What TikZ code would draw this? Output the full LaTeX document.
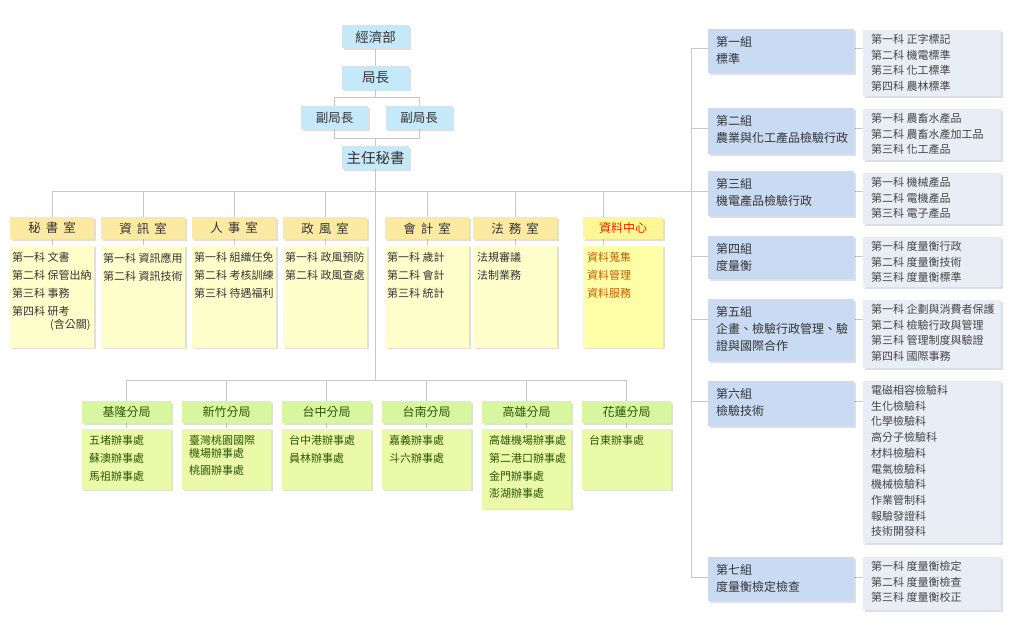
\documentclass[tikz,border=0pt]{standalone}
\usepackage{fontspec}
\setmainfont{Noto Sans CJK TC}
\usetikzlibrary{positioning,shadows,backgrounds}
\definecolor{topblue}{RGB}{198,233,250}
\definecolor{headyellow}{RGB}{252,234,163}
\definecolor{datahead}{RGB}{255,247,150}
\definecolor{bodyyellow}{RGB}{255,255,204}
\definecolor{databody}{RGB}{255,255,168}
\definecolor{brgreen}{RGB}{216,246,160}
\definecolor{brlight}{RGB}{234,250,168}
\definecolor{grpblue}{RGB}{201,219,242}
\definecolor{subgray}{RGB}{233,237,245}
\definecolor{linegray}{RGB}{200,200,200}
\definecolor{inkgray}{RGB}{51,51,51}
\definecolor{subink}{RGB}{68,68,68}
\definecolor{brink}{RGB}{45,85,10}
\definecolor{datared}{RGB}{220,40,0}
\definecolor{databrown}{RGB}{185,95,0}
\newcommand{\chgap}{\hspace{5pt}}

\begin{document}
\begin{tikzpicture}[x=1pt,y=-1pt,
  shade/.style={drop shadow={shadow xshift=1.5pt,shadow yshift=-1.5pt,opacity=.25}},
  topbox/.style={fill=topblue,minimum width=67,minimum height=23,inner sep=0,shade,
    text=inkgray,font=\fontsize{13.5}{14}\selectfont},
  offhead/.style={fill=headyellow,minimum width=84,minimum height=22,inner sep=0,
    anchor=north west,shade,text=inkgray,font=\fontsize{12.5}{13}\selectfont},
  offbody/.style={fill=bodyyellow,minimum width=84,minimum height=102,inner sep=0,shade},
  offtext/.style={anchor=north west,inner sep=0,align=left,text=inkgray,
    font=\fontsize{11}{18}\selectfont},
  brhead/.style={fill=brgreen,minimum width=89,minimum height=22,inner sep=0,
    anchor=north west,shade,text=brink,font=\fontsize{12}{13}\selectfont},
  brbody/.style={fill=brlight,minimum width=89,minimum height=61,inner sep=0,shade},
  brtext/.style={anchor=north west,inner sep=0,align=left,text=brink,
    font=\fontsize{11}{17.7}\selectfont},
  grpbox/.style={fill=grpblue,minimum width=146,inner sep=0,anchor=north west,shade},
  grptext/.style={anchor=north west,inner sep=0,align=left,text=inkgray,
    font=\fontsize{12}{17}\selectfont},
  subbox/.style={fill=subgray,minimum width=138,inner sep=0,anchor=north west,shade},
  subtext/.style={anchor=north west,inner sep=0,align=left,text=subink,
    font=\fontsize{11}{15.7}\selectfont},
  link/.style={draw=linegray,line width=1pt}]
\useasboundingbox (0,0) rectangle (1017,634);

% top of the chart
\node[topbox] (moea) at (375.5,37) {經濟部};
\node[topbox] (dg) at (375.5,78) {局長};
\node[topbox,font=\fontsize{12.5}{13}\selectfont] (ddg1) at (334.5,117.5) {副局長};
\node[topbox,font=\fontsize{12.5}{13}\selectfont] (ddg2) at (419,117.5) {副局長};
\node[topbox,font=\fontsize{14.5}{15}\selectfont] (sec) at (375.5,157.5) {主任秘書};

% offices
\node[offhead] (sech) at (10,217) {秘\chgap 書\chgap 室};
\node[offbody,below=6pt of sech] (secb) {};
\node[offtext] (sect) at ([shift={(2,7)}]secb.north west)
  {第一科 文書\\第二科 保管出納\\第三科 事務\\第四科 研考\\[-5pt]\hspace*{38pt}(含公關)};
\node[offhead] (infh) at (101,217) {資\chgap 訊\chgap 室};
\node[offbody,below=6pt of infh] (infb) {};
\node[offtext] (inft) at ([shift={(2,7)}]infb.north west)
  {第一科 資訊應用\\第二科 資訊技術};
\node[offhead] (perh) at (192,217) {人\chgap 事\chgap 室};
\node[offbody,below=6pt of perh] (perb) {};
\node[offtext] (pert) at ([shift={(2,7)}]perb.north west)
  {第一科 組織任免\\第二科 考核訓練\\第三科 待遇福利};
\node[offhead] (ethh) at (283,217) {政\chgap 風\chgap 室};
\node[offbody,below=6pt of ethh] (ethb) {};
\node[offtext] (etht) at ([shift={(2,7)}]ethb.north west)
  {第一科 政風預防\\第二科 政風查處};
\node[offhead] (acch) at (385,217) {會\chgap 計\chgap 室};
\node[offbody,below=6pt of acch] (accb) {};
\node[offtext] (acct) at ([shift={(2,7)}]accb.north west)
  {第一科 歲計\\第二科 會計\\第三科 統計};
\node[offhead] (lawh) at (473,217) {法\chgap 務\chgap 室};
\node[offbody,below=6pt of lawh] (lawb) {};
\node[offtext] (lawt) at ([shift={(4,7)}]lawb.north west)
  {法規審議\\法制業務};
\node[offhead,fill=datahead,text=datared,minimum width=80,font=\fontsize{12}{13}\selectfont]
  (dath) at (583,217) {資料中心};
\node[offbody,fill=databody,minimum width=80,below=6pt of dath] (datb) {};
\node[offtext,text=databrown] (datt) at ([shift={(4,7)}]datb.north west)
  {資料蒐集\\資料管理\\資料服務};

% branch offices
\node[brhead] (klh) at (82,401) {基隆分局};
\node[brbody,below=5pt of klh] (klb) {};
\node[brtext] (klt) at ([shift={(7,7)}]klb.north west)
  {五堵辦事處\\蘇澳辦事處\\馬祖辦事處};
\node[brhead] (hch) at (182,401) {新竹分局};
\node[brbody,below=5pt of hch] (hcb) {};
\node[brtext] (hct) at ([shift={(7,7)}]hcb.north west)
  {臺灣桃園國際\\[-5.5pt]機場辦事處\\桃園辦事處};
\node[brhead] (tch) at (282,401) {台中分局};
\node[brbody,below=5pt of tch] (tcb) {};
\node[brtext] (tct) at ([shift={(7,7)}]tcb.north west)
  {台中港辦事處\\員林辦事處};
\node[brhead] (tnh) at (382,401) {台南分局};
\node[brbody,below=5pt of tnh] (tnb) {};
\node[brtext] (tnt) at ([shift={(7,7)}]tnb.north west)
  {嘉義辦事處\\斗六辦事處};
\node[brhead] (ksh) at (482,401) {高雄分局};
\node[brbody,minimum height=80,below=5pt of ksh] (ksb) {};
\node[brtext] (kst) at ([shift={(7,7)}]ksb.north west)
  {高雄機場辦事處\\第二港口辦事處\\金門辦事處\\澎湖辦事處};
\node[brhead] (hlh) at (582,401) {花蓮分局};
\node[brbody,below=5pt of hlh] (hlb) {};
\node[brtext] (hlt) at ([shift={(7,7)}]hlb.north west)
  {台東辦事處};

% groups and their sections
\node[grpbox,minimum height=44] (grp1) at (708,29) {};
\node[grptext] (grp1t) at ([shift={(8,7)}]grp1.north west) {第一組\\標準};
\node[subbox,minimum height=66] (sub1) at (863,30) {};
\node[subtext] (sub1t) at ([shift={(8,4)}]sub1.north west)
  {第一科 正字標記\\第二科 機電標準\\第三科 化工標準\\第四科 農林標準};
\node[grpbox,minimum height=46] (grp2) at (708,108) {};
\node[grptext] (grp2t) at ([shift={(8,7)}]grp2.north west) {第二組\\農業與化工產品檢驗行政};
\node[subbox,minimum height=51] (sub2) at (863,109) {};
\node[subtext] (sub2t) at ([shift={(8,4)}]sub2.north west)
  {第一科 農畜水產品\\第二科 農畜水產加工品\\第三科 化工產品};
\node[grpbox,minimum height=45] (grp3) at (708,171) {};
\node[grptext] (grp3t) at ([shift={(8,7)}]grp3.north west) {第三組\\機電產品檢驗行政};
\node[subbox,minimum height=51] (sub3) at (863,173) {};
\node[subtext] (sub3t) at ([shift={(8,4)}]sub3.north west)
  {第一科 機械產品\\第二科 電機產品\\第三科 電子產品};
\node[grpbox,minimum height=43] (grp4) at (708,236) {};
\node[grptext] (grp4t) at ([shift={(8,7)}]grp4.north west) {第四組\\度量衡};
\node[subbox,minimum height=50] (sub4) at (863,237) {};
\node[subtext] (sub4t) at ([shift={(8,4)}]sub4.north west)
  {第一科 度量衡行政\\第二科 度量衡技術\\第三科 度量衡標準};
\node[grpbox,minimum height=62] (grp5) at (708,299) {};
\node[grptext] (grp5t) at ([shift={(8,7)}]grp5.north west)
  {第五組\\企畫、檢驗行政管理、驗\\證與國際合作};
\node[subbox,minimum height=68] (sub5) at (863,300) {};
\node[subtext] (sub5t) at ([shift={(8,4)}]sub5.north west)
  {第一科 企劃與消費者保護\\第二科 檢驗行政與管理\\第三科 管理制度與驗證\\第四科 國際事務};
\node[grpbox,minimum height=45] (grp6) at (708,381) {};
\node[grptext] (grp6t) at ([shift={(8,7)}]grp6.north west) {第六組\\檢驗技術};
\node[subbox,minimum height=162] (sub6) at (863,381) {};
\node[subtext] (sub6t) at ([shift={(8,4)}]sub6.north west)
  {電磁相容檢驗科\\生化檢驗科\\化學檢驗科\\高分子檢驗科\\材料檢驗科\\電氣檢驗科\\機械檢驗科\\作業管制科\\報驗發證科\\技術開發科};
\node[grpbox,minimum height=44] (grp7) at (708,557) {};
\node[grptext] (grp7t) at ([shift={(8,7)}]grp7.north west) {第七組\\度量衡檢定檢查};
\node[subbox,minimum height=53] (sub7) at (863,557) {};
\node[subtext] (sub7t) at ([shift={(8,4)}]sub7.north west)
  {第一科 度量衡檢定\\第二科 度量衡檢查\\第三科 度量衡校正};

% connectors, behind the boxes
\begin{scope}[on background layer]
\fill[white] (0,0) rectangle (1017,634);
\coordinate (j1) at (375.5,97.5);
\coordinate (j2) at (375.5,138);
\coordinate (busL) at (52,191);
\coordinate (busB) at (375.5,380.5);
\coordinate (rail) at (691,0);
\draw[link] (moea)--(dg);
\draw[link] (dg)--(j1);
\draw[link] (j1) -| (ddg1);
\draw[link] (j1) -| (ddg2);
\draw[link] (ddg1) |- (j2);
\draw[link] (ddg2) |- (j2);
\draw[link] (j2)--(sec);
\draw[link] (sec)--(busB);
\draw[link] (busL)--(busL -| grp3.west);
\draw[link] (secb.north) |- (busL);
\draw[link] (infb.north) |- (busL);
\draw[link] (perb.north) |- (busL);
\draw[link] (ethb.north) |- (busL);
\draw[link] (accb.north) |- (busL);
\draw[link] (lawb.north) |- (busL);
\draw[link] ([xshift=20pt]datb.north west) |- (busL);
\draw[link] (klb.north) |- (busB);
\draw[link] (hcb.north) |- (busB);
\draw[link] (tcb.north) |- (busB);
\draw[link] (tnb.north) |- (busB);
\draw[link] (ksb.north) |- (busB);
\draw[link] (hlb.north) |- (busB);
\coordinate (c1) at ([yshift=-20pt]grp1.north west);
\coordinate (c2) at ([yshift=-20pt]grp2.north west);
\coordinate (c3) at ([yshift=-20pt]grp3.north west);
\coordinate (c4) at ([yshift=-20pt]grp4.north west);
\coordinate (c5) at ([yshift=-20pt]grp5.north west);
\coordinate (c6) at ([yshift=-20pt]grp6.north west);
\coordinate (c7) at ([yshift=-20pt]grp7.north west);
\draw[link] (c1 -| rail)--(c7 -| rail);
\draw[link] (c1 -| rail)--(c1);
\draw[link] (c2 -| rail)--(c2);
\draw[link] (c4 -| rail)--(c4);
\draw[link] (c5 -| rail)--(c5);
\draw[link] (c6 -| rail)--(c6);
\draw[link] (c7 -| rail)--(c7);
\draw[link] (c1 -| grp1.east)--(c1 -| sub1.west);
\draw[link] (c2 -| grp2.east)--(c2 -| sub2.west);
\draw[link] (c3 -| grp3.east)--(c3 -| sub3.west);
\draw[link] (c4 -| grp4.east)--(c4 -| sub4.west);
\draw[link] (c5 -| grp5.east)--(c5 -| sub5.west);
\draw[link] (c6 -| grp6.east)--(c6 -| sub6.west);
\draw[link] (c7 -| grp7.east)--(c7 -| sub7.west);
\end{scope}
\end{tikzpicture}
\end{document}
